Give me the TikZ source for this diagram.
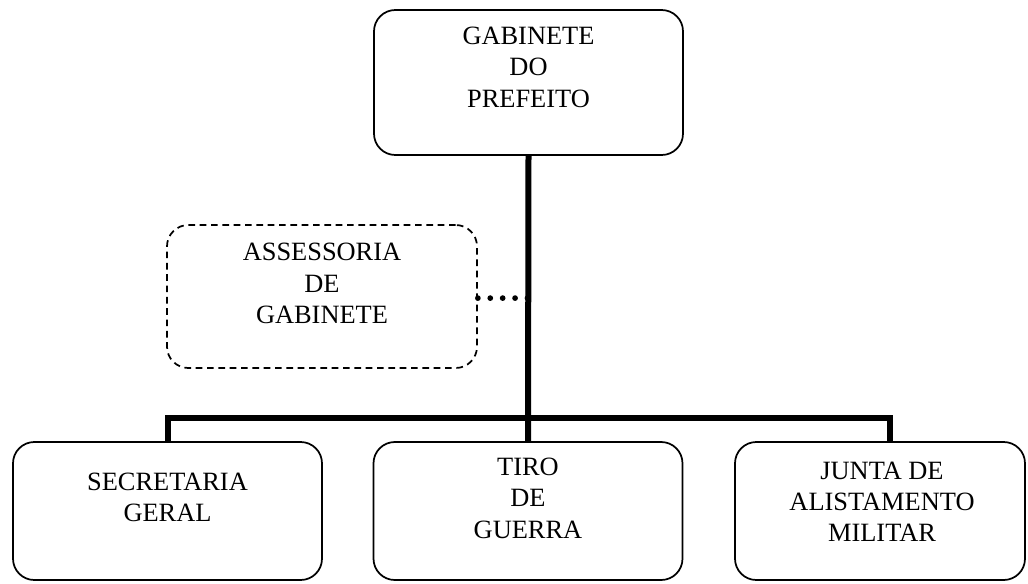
\documentclass[tikz,border=0pt]{standalone}
\usepackage{fontspec}
\setmainfont{Liberation Serif}
\usetikzlibrary{positioning}

\begin{document}
\begin{tikzpicture}[x=0.75pt, y=-0.75pt,
    unit/.style={draw, rounded corners=16pt, line width=1.3pt, minimum width=231.75pt, minimum height=103.5pt},
    lbl/.style={inner sep=0pt, align=center, font=\fontsize{19.8pt}{23.3pt}\selectfont},
    conn/.style={line width=4.5pt},
    dotline/.style={line width=4.3pt, line cap=round, dash pattern=on 0pt off 9.3pt}]
    \useasboundingbox (0,0) rectangle (1028,583);

    \node[unit, minimum height=108.75pt] (gab) at (528.5,82.5) {};
    \node[unit, dashed, dash pattern=on 5pt off 3.5pt, minimum width=232.5pt, minimum height=107.25pt] (ass) at (322,296.5) {};
    \node[unit] (sec) at (167.5,511) {};
    \node[unit] (tiro) at (528,511) {};
    \node[unit, minimum width=217.5pt] (junta) at (880,511) {};

    \node[lbl, below=13.5pt of gab.north] (gabtxt) {GABINETE\\DO\\PREFEITO};
    \node[lbl, below=14.3pt of ass.north] (asstxt) {ASSESSORIA\\DE\\GABINETE};
    \node[lbl, below=24pt of sec.north] (sectxt) {SECRETARIA\\GERAL};
    \node[lbl, below=12.75pt of tiro.north] (tirotxt) {TIRO\\DE\\GUERRA};
    \node[lbl, below=15.75pt of junta.north, xshift=1.5pt] (juntatxt) {JUNTA DE\\ALISTAMENTO\\MILITAR};

    \coordinate (bar) at (528,418);
    \coordinate[xshift=7.5pt] (jtop) at (junta.north);

    \draw[conn] (gab.south) -- (tiro.north);
    \draw[conn] (sec.north) |- (bar) -| (jtop);
    \draw[dotline] ([yshift=-1.2pt]ass.east) -- ([yshift=-1.2pt]ass.east -| gab.south);
\end{tikzpicture}
\end{document}
